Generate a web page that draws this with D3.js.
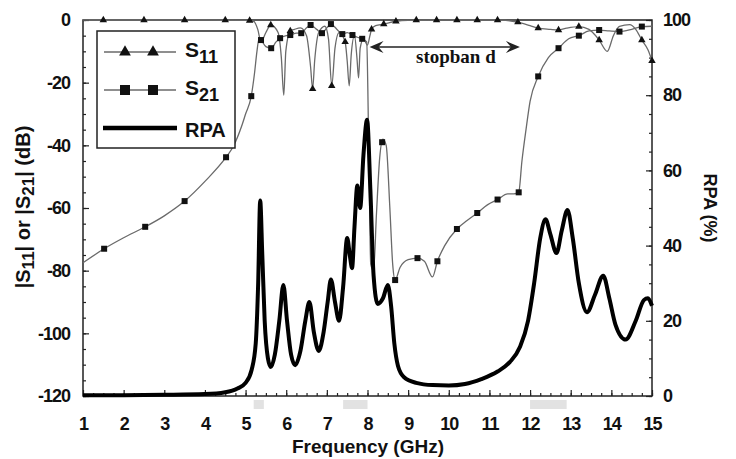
<!DOCTYPE html>
<html>
<head>
<meta charset="utf-8">
<script src="https://cdn.jsdelivr.net/npm/d3@7"></script>
<style>
  body { margin: 0; background: #fff; }
  svg { display: block; }
  text { font-family: "Liberation Sans", Arial, sans-serif; font-weight: bold; fill: #111; }
</style>
</head>
<body>
<svg id="chart" width="736" height="459"></svg>
<script>
// S11 / S21 in dB (left axis), RPA in % (right axis), frequency in GHz
const s11 = [
  [1, 0], [2, 0], [3, 0], [4, 0], [5, -0.1], [5.2, -0.4], [5.3, -3], [5.38, -7], [5.5, -4],
  [5.62, -1.6], [5.8, -4], [5.88, -12], [5.94, -24], [5.99, -10], [6.1, -3.5], [6.2, -3],
  [6.35, -2.5], [6.5, -5], [6.6, -15], [6.65, -22], [6.7, -13], [6.8, -4], [6.95, -2],
  [7.04, -6], [7.12, -21], [7.2, -9], [7.3, -4], [7.45, -7], [7.5, -13], [7.55, -21],
  [7.6, -11], [7.68, -5], [7.74, -12], [7.78, -18.5], [7.82, -9], [7.9, -6], [8.0, -8],
  [8.06, -5], [8.1, -3], [8.2, -1.8], [8.4, -1.3], [8.7, -0.4], [9, -0.1], [10, 0], [11, 0],
  [11.4, -0.1], [11.7, -0.7], [12, -1.8], [12.2, -2.6], [12.5, -3], [12.7, -3.2], [12.9, -2.6],
  [13.2, -2.1], [13.45, -3], [13.7, -6.4], [13.9, -10], [14.05, -5], [14.2, -2], [14.45, -1.5],
  [14.6, -3], [14.75, -6.4], [14.9, -9.5], [15, -13]
];
const s11Marks = [
  [1.5, 0], [2.5, 0], [3.5, 0], [4.5, 0], [5.1, -0.2], [5.62, -1.6], [6.1, -3.5], [6.65, -22],
  [7.12, -21], [7.45, -7], [8.1, -3], [8.4, -1.3], [8.7, -0.4], [9.2, 0], [9.7, 0], [10.2, 0],
  [10.7, 0], [11.2, 0], [11.7, -0.7], [12.2, -2.6], [12.7, -3.2], [13.2, -2.1], [13.7, -6.4],
  [14.75, -6.4], [15, -13]
];

const s21 = [
  [1, -77.5], [1.52, -73], [2, -69.5], [2.53, -66], [3, -62.5], [3.5, -57.8], [4, -51.5],
  [4.52, -43.8], [4.7, -40.3], [4.9, -34], [5, -30], [5.14, -24.3], [5.22, -17], [5.28, -10],
  [5.33, -6], [5.38, -6.4], [5.5, -8.5], [5.63, -9], [5.75, -7], [5.85, -5.8], [6, -5],
  [6.1, -4.8], [6.25, -4.2], [6.37, -4.2], [6.5, -2.5], [6.6, -1.6], [6.75, -3], [6.88, -4.2],
  [7, -2.5], [7.1, -1.3], [7.25, -3], [7.38, -4.5], [7.5, -4], [7.63, -4.8], [7.75, -5.5],
  [7.87, -6], [7.98, -7], [8.03, -40], [8.08, -78], [8.15, -80], [8.22, -62], [8.3, -44],
  [8.38, -38], [8.46, -40], [8.55, -60], [8.62, -78], [8.68, -83], [8.8, -79], [9, -76.5],
  [9.23, -76], [9.4, -77], [9.6, -82], [9.72, -77], [9.9, -72], [10.2, -66.7], [10.45, -64],
  [10.7, -61.6], [10.95, -59], [11.2, -57.3], [11.45, -55.5], [11.6, -55.5], [11.72, -55],
  [11.8, -45], [11.9, -35], [12, -26], [12.2, -18], [12.45, -12], [12.7, -9], [12.95, -6],
  [13.2, -5], [13.45, -3.5], [13.7, -3.2], [13.95, -3.5], [14.2, -3.7], [14.5, -3],
  [14.75, -2.1], [15, -2]
];
const s21Marks = [
  [1.52, -73], [2.53, -66], [3.5, -57.8], [4.52, -43.8], [5.14, -24.3], [5.38, -6.4],
  [5.63, -9], [5.85, -5.8], [6.1, -4.8], [6.37, -4.2], [6.6, -1.6], [6.88, -4.2], [7.1, -1.3],
  [7.38, -4.5], [7.63, -4.8], [7.87, -6], [8.36, -39], [8.68, -83], [9.23, -76], [9.72, -77],
  [10.2, -66.7], [10.7, -61.6], [11.2, -57.3], [11.72, -55], [12.2, -18], [12.7, -9],
  [13.2, -5], [13.7, -3.2], [14.2, -3.7], [14.75, -2.1]
];

const rpa = [
  [1, 0.2], [2, 0.2], [3, 0.3], [4, 0.5], [4.5, 1], [4.8, 2], [5, 3.5], [5.15, 7], [5.25, 14],
  [5.31, 30], [5.36, 52], [5.41, 38], [5.47, 20], [5.55, 10], [5.62, 7.7], [5.72, 11],
  [5.83, 20], [5.93, 29.5], [6.02, 20], [6.12, 11], [6.22, 8.2], [6.35, 12], [6.47, 20],
  [6.57, 25], [6.68, 17], [6.8, 12], [6.92, 17], [7.02, 25], [7.1, 31], [7.2, 25], [7.3, 20],
  [7.4, 29], [7.5, 42], [7.57, 37], [7.62, 34], [7.68, 45], [7.75, 56], [7.82, 50], [7.9, 64],
  [7.99, 73.5], [8.07, 55], [8.15, 32], [8.25, 24.5], [8.38, 26], [8.5, 29.5], [8.58, 24],
  [8.66, 14], [8.75, 8], [8.9, 5], [9.2, 3.5], [9.6, 2.9], [10, 2.8], [10.4, 3.2], [10.8, 4.5],
  [11.2, 6.5], [11.5, 9], [11.75, 13], [11.95, 20], [12.1, 30], [12.25, 42], [12.38, 47],
  [12.5, 43], [12.65, 38], [12.78, 44], [12.92, 49.5], [13.05, 42], [13.2, 30], [13.4, 22.3],
  [13.6, 27], [13.8, 32], [13.95, 26], [14.1, 19], [14.35, 15], [14.6, 20], [14.8, 25.5],
  [14.9, 26], [15, 24]
];

const freqTicks = d3.range(1, 16);
const dbTicks = [0, -20, -40, -60, -80, -100, -120];
const rpaTicks = [0, 20, 40, 60, 80, 100];
// faint grey smudges just under the frequency axis (GHz ranges)
const bandMarks = [[5.2, 5.45], [7.4, 8.0], [12.0, 12.9]];
const stopband = [8.05, 11.75];

const svg = d3.select('#chart');
const L = 83, R = 652, T = 20, B = 396;

const x = d3.scaleLinear().domain([1, 15]).range([L, R]);
const yL = d3.scaleLinear().domain([-120, 0]).range([B, T]);
const yR = d3.scaleLinear().domain([0, 100]).range([B, T]);

// axes — ticks point into the plot
function styleAxis(g) {
  g.select('.domain').remove();
  g.selectAll('line').attr('stroke', '#222').attr('stroke-width', 1.2);
  g.selectAll('text').attr('font-size', 18).attr('font-family', '"Liberation Sans", Arial, sans-serif')
    .attr('font-weight', 'bold').attr('fill', '#111').attr('letter-spacing', -1);
}

svg.append('g').attr('transform', `translate(0,${B})`)
  .call(d3.axisBottom(x).tickValues(d3.range(1, 15.01, 0.25)).tickSize(-3).tickFormat(''))
  .call(styleAxis);
svg.append('g').attr('transform', `translate(0,${B})`)
  .call(d3.axisBottom(x).tickValues(freqTicks).tickSize(-6).tickPadding(21).tickFormat((d) => String(d)))
  .call(styleAxis);

svg.append('g').attr('transform', `translate(${L},0)`)
  .call(d3.axisLeft(yL).tickValues(d3.range(-120, 0.1, 5)).tickSize(-3).tickFormat(''))
  .call(styleAxis);
svg.append('g').attr('transform', `translate(${L},0)`)
  .call(d3.axisLeft(yL).tickValues(dbTicks).tickSize(-6).tickPadding(13).tickFormat((d) => String(d)))
  .call(styleAxis);

svg.append('g').attr('transform', `translate(${R},0)`)
  .call(d3.axisRight(yR).tickValues(d3.range(0, 100.1, 5)).tickSize(-3).tickFormat(''))
  .call(styleAxis);
svg.append('g').attr('transform', `translate(${R},0)`)
  .call(d3.axisRight(yR).tickValues(rpaTicks).tickSize(-6).tickPadding(11).tickFormat((d) => String(d)))
  .call(styleAxis);

svg.append('g').selectAll('rect').data(bandMarks).join('rect')
  .attr('x', (d) => x(d[0])).attr('width', (d) => x(d[1]) - x(d[0]))
  .attr('y', B + 4).attr('height', 9).attr('fill', '#e2e2e2');

// frame
svg.append('rect').attr('x', L).attr('y', T).attr('width', R - L).attr('height', B - T)
  .attr('fill', 'none').attr('stroke', '#222').attr('stroke-width', 1.5);

// thin S-parameter curves
const lineDb = d3.line().x((d) => x(d[0])).y((d) => yL(d[1])).curve(d3.curveMonotoneX);
svg.append('path').datum(s21).attr('d', lineDb).attr('fill', 'none').attr('stroke', '#6a6a6a').attr('stroke-width', 1.3);
svg.append('path').datum(s11).attr('d', lineDb).attr('fill', 'none').attr('stroke', '#6a6a6a').attr('stroke-width', 1.3);

const tri = d3.symbol().type(d3.symbolTriangle);
svg.append('g').selectAll('path').data(s11Marks).join('path')
  .attr('d', tri.size(24)).attr('transform', (d) => `translate(${x(d[0])},${yL(d[1])})`).attr('fill', '#111');
svg.append('g').selectAll('rect').data(s21Marks).join('rect')
  .attr('x', (d) => x(d[0]) - 3).attr('y', (d) => yL(d[1]) - 3).attr('width', 6).attr('height', 6).attr('fill', '#111');

// RPA — thick black on top
svg.append('path').datum(rpa)
  .attr('d', d3.line().x((d) => x(d[0])).y((d) => yR(d[1])).curve(d3.curveMonotoneX))
  .attr('fill', 'none').attr('stroke', '#000').attr('stroke-width', 4).attr('stroke-linejoin', 'round');

// stopband arrow
const ay = 47;
svg.append('line').attr('x1', x(stopband[0]) + 4).attr('x2', x(stopband[1]) - 4).attr('y1', ay).attr('y2', ay)
  .attr('stroke', '#222').attr('stroke-width', 1.5);
const head = (tipX, dir) => `M${tipX},${ay}L${tipX + dir * 14},${ay - 6}L${tipX + dir * 9},${ay}L${tipX + dir * 14},${ay + 6}Z`;
svg.append('path').attr('d', head(x(stopband[0]), 1)).attr('fill', '#222');
svg.append('path').attr('d', head(x(stopband[1]), -1)).attr('fill', '#222');
svg.append('text').attr('x', 416).attr('y', 63)
  .style('font-family', '"Liberation Serif", "DejaVu Serif", serif').attr('font-size', 19).attr('fill', '#222')
  .text('stopban d');

// legend
const lg = svg.append('g');
lg.append('rect').attr('x', 97).attr('y', 31).attr('width', 138).attr('height', 117)
  .attr('fill', '#fff').attr('stroke', '#222').attr('stroke-width', 1.5);
const rows = [
  { y: 52, key: 's11' },
  { y: 90, key: 's21' },
  { y: 128, key: 'rpa' },
];
rows.forEach((r) => {
  if (r.key === 'rpa') {
    lg.append('line').attr('x1', 103).attr('x2', 177).attr('y1', r.y).attr('y2', r.y).attr('stroke', '#000').attr('stroke-width', 4.5);
    lg.append('text').attr('x', 185).attr('y', r.y + 9).attr('font-size', 20).text('RPA');
    return;
  }
  lg.append('line').attr('x1', 104).attr('x2', 176).attr('y1', r.y).attr('y2', r.y).attr('stroke', '#6a6a6a').attr('stroke-width', 1.3);
  [125, 153].forEach((mx) => {
    if (r.key === 's11') lg.append('path').attr('d', tri.size(60)).attr('transform', `translate(${mx},${r.y})`).attr('fill', '#111');
    else lg.append('rect').attr('x', mx - 5).attr('y', r.y - 5).attr('width', 10).attr('height', 10).attr('fill', '#111');
  });
  const t = lg.append('text').attr('x', 185).attr('y', r.y + 5).attr('font-size', 21);
  t.append('tspan').text('S');
  t.append('tspan').attr('dy', 6).attr('font-size', 18).text(r.key === 's11' ? '11' : '21');
});

// axis titles
svg.append('text').attr('x', 368).attr('y', 453).attr('text-anchor', 'middle').attr('font-size', 19)
  .text('Frequency (GHz)');

const yt = svg.append('text').attr('transform', 'translate(30,207) rotate(-90)').attr('text-anchor', 'middle').attr('font-size', 20);
yt.append('tspan').text('|S');
yt.append('tspan').attr('dy', 4).attr('font-size', 17).text('11');
yt.append('tspan').attr('dy', -4).text('| or |S');
yt.append('tspan').attr('dy', 4).attr('font-size', 17).text('21');
yt.append('tspan').attr('dy', -4).text('| (dB)');

svg.append('text').attr('transform', 'translate(704,208) rotate(90)').attr('text-anchor', 'middle').attr('font-size', 18)
  .text('RPA (%)');
</script>
</body>
</html>
